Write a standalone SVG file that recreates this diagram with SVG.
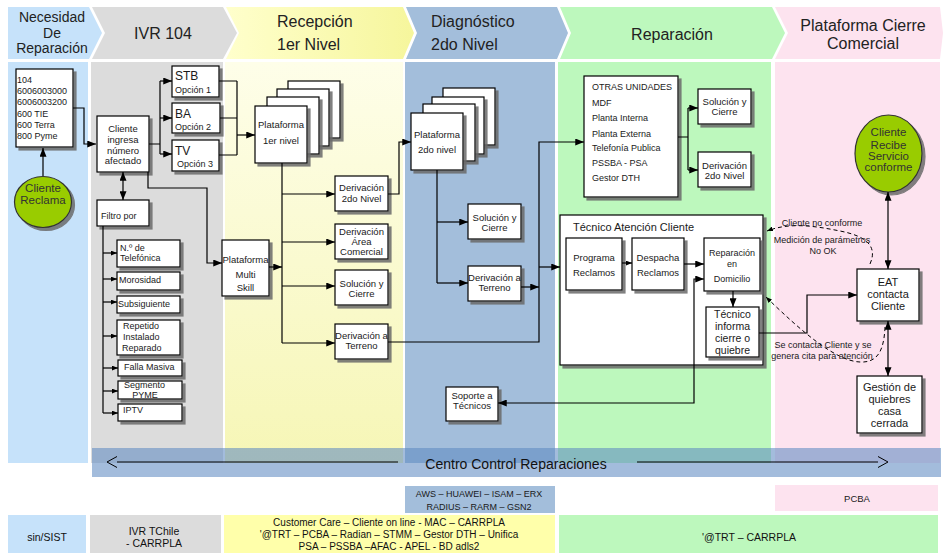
<svg xmlns="http://www.w3.org/2000/svg" width="943" height="553" viewBox="0 0 943 553">
<defs>
  <linearGradient id="yh" x1="0" y1="0" x2="1" y2="0">
    <stop offset="0" stop-color="#ffffcc"/><stop offset="1" stop-color="#f6f69c"/>
  </linearGradient>
  <linearGradient id="yb" x1="0" y1="0" x2="0" y2="1">
    <stop offset="0" stop-color="#fefee9"/><stop offset="1" stop-color="#f6f6b6"/>
  </linearGradient>
  <filter id="ds" x="-10%" y="-10%" width="130%" height="130%">
    <feDropShadow dx="3" dy="3" stdDeviation="0.6" flood-color="#6a6a6a" flood-opacity="0.85"/>
  </filter>
  <marker id="ah" viewBox="0 0 10 8" refX="10" refY="4" markerWidth="9" markerHeight="7" orient="auto-start-reverse" markerUnits="userSpaceOnUse">
    <path d="M0,0 L10,4 L0,8 z" fill="#000"/>
  </marker>
  <marker id="ahs" viewBox="0 0 10 8" refX="10" refY="4" markerWidth="6" markerHeight="5" orient="auto-start-reverse" markerUnits="userSpaceOnUse">
    <path d="M0,0 L10,4 L0,8 z" fill="#000"/>
  </marker>
  <style>
    text { font-family: "Liberation Sans", Arial, sans-serif; fill: #1a1a1a; }
    .hd { font-size: 16px; fill: #222; }
    .hd14 { font-size: 14px; fill: #222; }
    .c { text-anchor: middle; }
    .f9 { font-size: 9px; }
    .f95 { font-size: 9.5px; }
    .f11 { font-size: 11px; }
    .f12 { font-size: 12px; }
    .f105 { font-size: 10.5px; }
    .low { font-size: 10.5px; fill: #111; }
    .box { fill: #fff; stroke: #000; stroke-width: 1.2; filter: url(#ds); }
    .ell { fill: #99cc00; stroke: #333; stroke-width: 1.2; filter: url(#ds); }
    .ln { fill: none; stroke: #000; stroke-width: 1.2; }
    .a { marker-end: url(#ah); }
    .aa { marker-start: url(#ah); marker-end: url(#ah); }
    .as { marker-end: url(#ahs); }
    .dash { fill: none; stroke: #000; stroke-width: 1; stroke-dasharray: 4 3; marker-end: url(#ahs); }
  </style>
</defs>

<rect width="943" height="553" fill="#fff"/>

<!-- phase headers (chevrons) -->
<g id="headers">
  <polygon points="8,7 89,7 102,33 89,59 8,59" fill="#c6e2fa"/>
  <polygon points="92,7 223,7 237,33 223,59 92,59 105,33" fill="#dcdcdc"/>
  <polygon points="226,7 403,7 414,33 403,59 226,59 239,33" fill="url(#yh)"/>
  <polygon points="406,7 557,7 568,33 557,59 406,59 417,33" fill="#a3bedb"/>
  <polygon points="560,7 772,7 785,33 772,59 560,59 571,33" fill="#bdf8bd"/>
  <polygon points="775,7 940,7 943,33 940,59 775,59 788,33" fill="#fde3ef"/>
  <text class="hd14 c" x="52" y="22">Necesidad</text>
  <text class="hd14 c" x="52" y="38">De</text>
  <text class="hd14 c" x="52" y="53">Reparación</text>
  <text class="hd c" x="163" y="39">IVR 104</text>
  <text class="hd" x="277" y="27">Recepción</text>
  <text class="hd" x="277" y="50">1er Nivel</text>
  <text class="hd" x="431" y="27">Diagnóstico</text>
  <text class="hd" x="431" y="50">2do Nivel</text>
  <text class="hd c" x="672" y="40">Reparación</text>
  <text class="hd c" x="863" y="31">Plataforma Cierre</text>
  <text class="hd c" x="863" y="49">Comercial</text>
</g>

<!-- swimlane columns -->
<g id="lanes">
  <rect x="8" y="62" width="80" height="401" fill="#c6e2fa"/>
  <rect x="91" y="62" width="132" height="401" fill="#dcdcdc"/>
  <rect x="225" y="62" width="178" height="401" fill="url(#yb)"/>
  <rect x="405" y="62" width="150" height="401" fill="#a3bedb"/>
  <rect x="558" y="62" width="213" height="401" fill="#bdf8bd"/>
  <rect x="775" y="62" width="165" height="401" fill="#fde3ef"/>
</g>

<!-- systems rows -->
<g id="systems">
  <rect x="405" y="486" width="150" height="27" fill="#a3bedb"/>
  <text class="c" x="479" y="497" style="font-size:9px">AWS – HUAWEI – ISAM – ERX</text>
  <text class="c" x="479" y="510" style="font-size:9px">RADIUS – RARM – GSN2</text>
  <rect x="775" y="485" width="163" height="26" fill="#fde3ef"/>
  <text class="c" x="857" y="502" style="font-size:9.5px">PCBA</text>
  <rect x="8" y="515" width="78" height="38" fill="#c6e2fa"/>
  <text class="low c" x="47" y="541">sin/SIST</text>
  <rect x="90" y="515" width="131" height="38" fill="#dcdcdc"/>
  <text class="low c" x="154" y="535">IVR TChile</text>
  <text class="low c" x="154" y="547">- CARRPLA</text>
  <rect x="224" y="515" width="331" height="38" fill="#ffffaa"/>
  <text class="c" x="389" y="526" style="font-size:10px;fill:#111">Customer Care – Cliente on line - MAC –  CARRPLA</text>
  <text class="c" x="389" y="538" style="font-size:10px;fill:#111">'@TRT – PCBA – Radian – STMM – Gestor DTH – Unifica</text>
  <text class="c" x="389" y="550" style="font-size:10px;fill:#111">PSA – PSSBA –AFAC - APEL - BD adls2</text>
  <rect x="559" y="515" width="379" height="38" fill="#bdf8bd"/>
  <text class="low c" x="749" y="541">'@TRT – CARRPLA</text>
</g>

<!-- nodes -->
<g id="n-numeros">
  <rect class="box" x="16" y="69" width="57" height="78"/>
  <text class="f9" x="17" y="83">104</text>
  <text class="f9" x="17" y="94">6006003000</text>
  <text class="f9" x="17" y="105">6006003200</text>
  <text class="f9" x="17" y="117">600 TIE</text>
  <text class="f9" x="17" y="128">600 Terra</text>
  <text class="f9" x="17" y="139">800 Pyme</text>
</g>
<g id="n-cliente-reclama">
  <ellipse class="ell" cx="43" cy="202" rx="28.5" ry="25.5"/>
  <text class="c" x="43" y="192" style="font-size:11.5px;fill:#333">Cliente</text>
  <text class="c" x="43" y="204" style="font-size:11.5px;fill:#333">Reclama</text>
</g>
<g id="n-cliente-ingresa">
  <rect class="box" x="97" y="116" width="52" height="56"/>
  <text class="f95 c" x="123" y="131.5">Cliente</text>
  <text class="f95 c" x="123" y="143">ingresa</text>
  <text class="f95 c" x="123" y="153.5">número</text>
  <text class="f95 c" x="123" y="163.5">afectado</text>
</g>
<g id="n-stb">
  <rect class="box" x="172" y="66" width="47" height="31"/>
  <text class="f12" x="175" y="80">STB</text>
  <text class="f9" x="175" y="93">Opción 1</text>
</g>
<g id="n-ba">
  <rect class="box" x="172" y="103" width="48" height="30"/>
  <text class="f12" x="175" y="118">BA</text>
  <text class="f9" x="175" y="130">Opción 2</text>
</g>
<g id="n-tv">
  <rect class="box" x="172" y="140" width="47" height="31"/>
  <text class="f12" x="175" y="155">TV</text>
  <text class="f9" x="177" y="167">Opción 3</text>
</g>
<g id="n-filtro">
  <rect class="box" x="97" y="200" width="52" height="26"/>
  <text class="f9" x="101" y="219">Filtro por</text>
</g>
<g id="n-f-telefonica">
  <rect class="box" x="117" y="240" width="63" height="27"/>
  <text class="f9" x="120" y="251">N.º de</text>
  <text class="f9" x="120" y="261">Telefónica</text>
</g>
<g id="n-f-morosidad">
  <rect class="box" x="117" y="272" width="63" height="18"/>
  <text class="f9" x="119" y="283">Morosidad</text>
</g>
<g id="n-f-subsiguiente">
  <rect class="box" x="117" y="296" width="63" height="17"/>
  <text class="f9" x="118" y="307">Subsiguiente</text>
</g>
<g id="n-f-repetido">
  <rect class="box" x="117" y="320" width="63" height="35"/>
  <text class="f9" x="123" y="329">Repetido</text>
  <text class="f9" x="123" y="340">Instalado</text>
  <text class="f9" x="122" y="351">Reparado</text>
</g>
<g id="n-f-masiva">
  <rect class="box" x="118" y="360" width="64" height="16"/>
  <text class="f9" x="124" y="370">Falla Masiva</text>
</g>
<g id="n-f-pyme">
  <rect class="box" x="118" y="381" width="64" height="18"/>
  <text class="f9" x="124" y="388">Segmento</text>
  <text class="f9 c" x="145" y="397.5">PYME</text>
</g>
<g id="n-f-iptv">
  <rect class="box" x="118" y="404" width="64" height="17"/>
  <text class="f9" x="123" y="413">IPTV</text>
</g>
<g id="n-multiskill">
  <rect class="box" x="222" y="240" width="47" height="56"/>
  <text class="f95 c" x="245.5" y="263">Plataforma</text>
  <text class="f95 c" x="245.5" y="278">Multi</text>
  <text class="f95 c" x="245.5" y="291">Skill</text>
</g>
<g id="n-plataforma-1">
  <rect class="box" x="288" y="81" width="52" height="57"/>
  <rect class="box" x="277" y="89" width="52" height="57"/>
  <rect class="box" x="267" y="97" width="52" height="57"/>
  <rect class="box" x="255" y="106" width="52" height="57"/>
  <text class="f95 c" x="281" y="128">Plataforma</text>
  <text class="f95 c" x="281" y="144">1er nivel</text>
</g>
<g id="n-der-2do">
  <rect class="box" x="335" y="176" width="53" height="35"/>
  <text class="f95 c" x="361.5" y="191">Derivación</text>
  <text class="f95 c" x="361.5" y="202">2do Nivel</text>
</g>
<g id="n-der-comercial">
  <rect class="box" x="335" y="224" width="53" height="35"/>
  <text class="f95 c" x="361.5" y="235">Derivación</text>
  <text class="f95 c" x="361.5" y="245">Área</text>
  <text class="f95 c" x="361.5" y="255">Comercial</text>
</g>
<g id="n-solucion-1">
  <rect class="box" x="335" y="270" width="53" height="35"/>
  <text class="f95 c" x="361.5" y="287">Solución y</text>
  <text class="f95 c" x="361.5" y="297">Cierre</text>
</g>
<g id="n-terreno-1">
  <rect class="box" x="335" y="324" width="53" height="35"/>
  <text class="f95 c" x="361.5" y="339">Derivación a</text>
  <text class="f95 c" x="361.5" y="349">Terreno</text>
</g>
<g id="n-plataforma-2">
  <rect class="box" x="443" y="88" width="52" height="57"/>
  <rect class="box" x="432" y="97" width="52" height="57"/>
  <rect class="box" x="423" y="104" width="52" height="57"/>
  <rect class="box" x="411" y="113" width="52" height="57"/>
  <text class="f95 c" x="437" y="138">Plataforma</text>
  <text class="f95 c" x="437" y="153">2do nivel</text>
</g>
<g id="n-solucion-2">
  <rect class="box" x="468" y="204" width="53" height="35"/>
  <text class="f95 c" x="494.5" y="221">Solución y</text>
  <text class="f95 c" x="494.5" y="231">Cierre</text>
</g>
<g id="n-terreno-2">
  <rect class="box" x="468" y="266" width="53" height="35"/>
  <text class="f95 c" x="494.5" y="281">Derivación a</text>
  <text class="f95 c" x="494.5" y="291">Terreno</text>
</g>
<g id="n-soporte">
  <rect class="box" x="446" y="387" width="52" height="34"/>
  <text class="f95 c" x="472" y="399">Soporte a</text>
  <text class="f95 c" x="472" y="409">Técnicos</text>
</g>
<g id="n-otras">
  <rect class="box" x="584" y="76" width="94" height="121"/>
  <text class="f9" x="592" y="90">OTRAS UNIDADES</text>
  <text class="f9" x="592" y="106">MDF</text>
  <text class="f9" x="592" y="121">Planta Interna</text>
  <text class="f9" x="592" y="137">Planta Externa</text>
  <text class="f9" x="592" y="151">Telefonía Publica</text>
  <text class="f9" x="592" y="166">PSSBA - PSA</text>
  <text class="f9" x="592" y="181">Gestor DTH</text>
</g>
<g id="n-solucion-3">
  <rect class="box" x="698" y="89" width="53" height="35"/>
  <text class="f95 c" x="724.5" y="105">Solución y</text>
  <text class="f95 c" x="724.5" y="115">Cierre</text>
</g>
<g id="n-der-2do-b">
  <rect class="box" x="698" y="152" width="53" height="35"/>
  <text class="f95 c" x="724.5" y="169">Derivación</text>
  <text class="f95 c" x="724.5" y="179">2do Nivel</text>
</g>
<g id="n-tecnico">
  <rect class="box" x="560" y="215" width="203" height="150"/>
  <text class="f11" x="573" y="231">Técnico Atención Cliente</text>
</g>
<g id="n-programa">
  <rect class="box" x="566" y="238" width="56" height="52"/>
  <text class="f95 c" x="594" y="261">Programa</text>
  <text class="f95 c" x="594" y="276">Reclamos</text>
</g>
<g id="n-despacha">
  <rect class="box" x="632" y="238" width="52" height="52"/>
  <text class="f95 c" x="658" y="261">Despacha</text>
  <text class="f95 c" x="658" y="276">Reclamos</text>
</g>
<g id="n-reparacion">
  <rect class="box" x="704" y="238" width="56" height="53"/>
  <text class="f9 c" x="732" y="256">Reparación</text>
  <text class="f9 c" x="732" y="267">en</text>
  <text class="f9 c" x="732" y="282">Domicilio</text>
</g>
<g id="n-informa">
  <rect class="box" x="706" y="307" width="53" height="50"/>
  <text class="f105 c" x="732.5" y="318">Técnico</text>
  <text class="f105 c" x="732.5" y="330">informa</text>
  <text class="f105 c" x="732.5" y="342">cierre o</text>
  <text class="f105 c" x="732.5" y="354">quiebre</text>
</g>
<g id="n-conforme">
  <ellipse class="ell" cx="888.5" cy="153.5" rx="33.5" ry="38.5"/>
  <text class="c" x="888.5" y="136" style="font-size:11.5px;fill:#333">Cliente</text>
  <text class="c" x="888.5" y="149" style="font-size:11.5px;fill:#333">Recibe</text>
  <text class="c" x="888.5" y="160" style="font-size:11.5px;fill:#333">Servicio</text>
  <text class="c" x="888.5" y="171" style="font-size:11.5px;fill:#333">conforme</text>
</g>
<g id="n-eat">
  <rect class="box" x="857" y="269" width="62" height="52"/>
  <text class="f11 c" x="888" y="286">EAT</text>
  <text class="f11 c" x="888" y="298">contacta</text>
  <text class="f11 c" x="888" y="310">Cliente</text>
</g>
<g id="n-gestion">
  <rect class="box" x="857" y="376" width="65" height="57"/>
  <text class="f11 c" x="889.5" y="391">Gestión de</text>
  <text class="f11 c" x="889.5" y="403">quiebres</text>
  <text class="f11 c" x="889.5" y="415">casa</text>
  <text class="f11 c" x="889.5" y="427">cerrada</text>
</g>

<!-- connectors -->
<g id="connectors">
  <path class="ln a" d="M43,176 V148"/>
  <path class="ln a" d="M73,108 H84 V144 H96"/>
  <path class="ln" d="M149,144 H160 M160,81 V154"/>
  <path class="ln a" d="M160,81 H172"/>
  <path class="ln a" d="M160,118 H172"/>
  <path class="ln a" d="M160,154 H172"/>
  <path class="ln" d="M219,81 H237 M220,118 H237 M219,155 H237 M237,81 V155"/>
  <path class="ln a" d="M237,135 H255"/>
  <path class="ln aa" d="M123,172 V200"/>
  <path class="ln a" d="M148,172 V188 H207 V263 H222"/>
  <path class="ln" d="M103,226 V413"/>
  <path class="ln as" d="M103,253 H117"/>
  <path class="ln as" d="M103,279 H117"/>
  <path class="ln as" d="M103,302 H117"/>
  <path class="ln as" d="M103,336 H117"/>
  <path class="ln as" d="M103,368 H118"/>
  <path class="ln as" d="M103,391 H118"/>
  <path class="ln as" d="M103,413 H118"/>
  <path class="ln a" d="M269,267 H282"/>
  <path class="ln" d="M282,163 V343"/>
  <path class="ln a" d="M282,194 H335"/>
  <path class="ln a" d="M282,242 H335"/>
  <path class="ln a" d="M282,286 H335"/>
  <path class="ln a" d="M282,343 H335"/>
  <path class="ln a" d="M388,194 H399 V142 H411"/>
  <path class="ln a" d="M388,342 H539 V142 H584"/>
  <path class="ln a" d="M539,267 H560"/>
  <path class="ln a" d="M521,287 H539"/>
  <path class="ln" d="M437,170 V283"/>
  <path class="ln a" d="M437,222 H468"/>
  <path class="ln a" d="M437,283 H468"/>
  <path class="ln" d="M678,137 H688 M688,108 V170"/>
  <path class="ln a" d="M688,108 H698"/>
  <path class="ln a" d="M688,170 H698"/>
  <path class="ln as" d="M622,263 H632"/>
  <path class="ln a" d="M684,264 H704"/>
  <path class="ln aa" d="M704,279 H694 V403 H498"/>
  <path class="ln a" d="M733,291 V307"/>
  <path class="ln a" d="M759,333 H807 V295 H857"/>
  <path class="ln aa" d="M888,192 V269"/>
  <path class="ln aa" d="M888,321 V376"/>
  <path class="dash" d="M870,264 C878,246 866,236 840,231 C815,226 790,222 767,231"/>
  <path class="dash" d="M885,327 C884,350 878,363 860,362 C835,361 800,330 766,297"/>
  <text class="f9 c" x="822" y="226">Cliente no conforme</text>
  <text class="f9 c" x="822" y="243">Medición de parámetros</text>
  <text class="f9 c" x="823" y="254">No OK</text>
  <text class="f9 c" x="823" y="348">Se contacta Cliente y se</text>
  <text class="f9 c" x="822" y="359">genera cita para atención</text>
</g>

<!-- control centre band -->
<g id="band">
  <rect x="92" y="448" width="849" height="29" fill="rgb(92,136,193)" fill-opacity="0.565"/>
  <path d="M398,462 H117" stroke="#000" stroke-width="1" fill="none"/>
  <path d="M117,456.5 L107,462 L117,467.5" stroke="#000" stroke-width="1" fill="none"/>
  <path d="M637,462 H878" stroke="#000" stroke-width="1" fill="none"/>
  <path d="M878,456.5 L888,462 L878,467.5" stroke="#000" stroke-width="1" fill="none"/>
  <text class="c" x="516" y="469" style="font-size:14px;fill:#111">Centro Control Reparaciones</text>
</g>
</svg>
